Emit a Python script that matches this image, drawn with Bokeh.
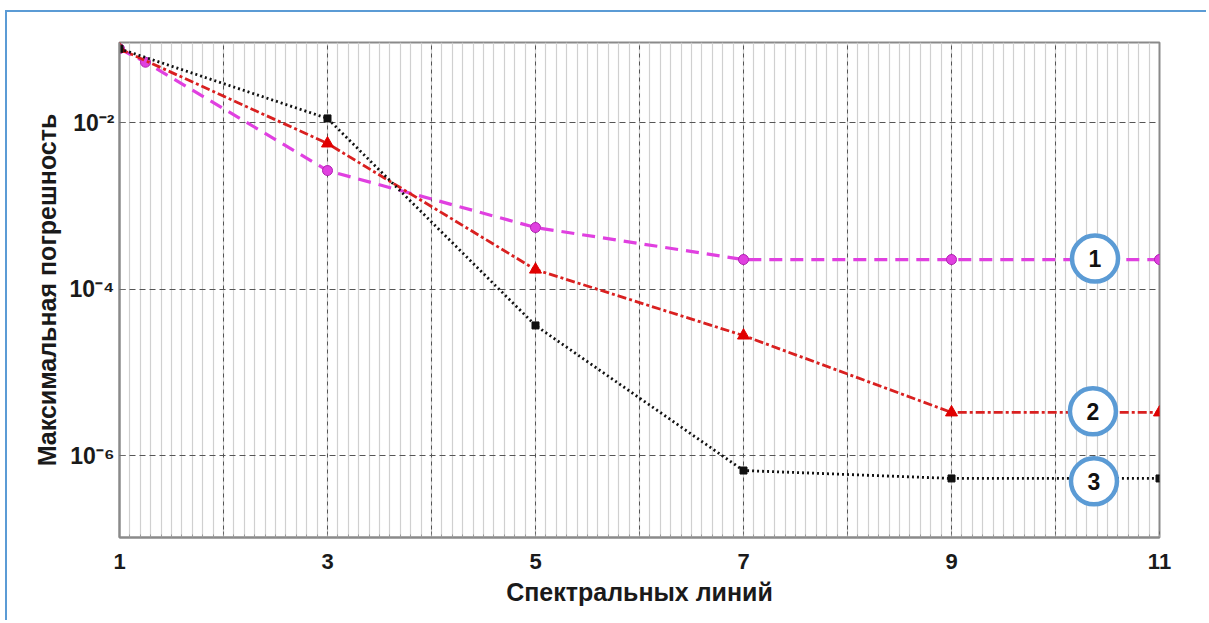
from bokeh.plotting import figure
from bokeh.models import Range1d, FixedTicker, ColumnDataSource
from bokeh.core.properties import value
from bokeh.embed import file_html
from bokeh.resources import INLINE

# --- data -------------------------------------------------------------
x_ticks = [1, 2, 3, 4, 5, 6, 7, 8, 9, 10, 11]
x_tick_labels = {1: "1", 3: "3", 5: "5", 7: "7", 9: "9", 11: "11"}
y_ticks = [1e-6, 1e-4, 1e-2]
y_tick_labels = {1e-6: "10\u207b\u2076", 1e-4: "10\u207b\u2074", 1e-2: "10\u207b\u00b2"}

x_s1 = [1, 1.25, 3, 5, 7, 9, 11]
err_s1 = [0.077, 0.053, 2.65e-3, 5.48e-4, 2.26e-4, 2.26e-4, 2.26e-4]

x_s2 = [1, 3, 5, 7, 9, 11]
err_s2 = [0.077, 5.6e-3, 1.71e-4, 2.76e-5, 3.29e-6, 3.29e-6]

x_s3 = [1, 3, 5, 7, 9, 11]
err_s3 = [0.077, 1.12e-2, 3.65e-5, 6.6e-7, 5.3e-7, 5.3e-7]

curve_ids = ["1", "2", "3"]
curve_label_x = [10.38, 10.36, 10.37]
curve_label_y = [2.32e-4, 3.39e-6, 4.9e-7]

x_title = "Спектральных линий"
y_title = "Максимальная погрешность"

FONT = "Liberation Sans"
FRAME_BLUE = "#5b9bd5"

p = figure(width=1201, height=610, y_axis_type="log",
           x_range=Range1d(1, 11), y_range=Range1d(1.035e-7, 0.0915),
           output_backend="svg", toolbar_location=None,
           min_border_left=112, min_border_right=49,
           min_border_top=30, min_border_bottom=85)
# page frame: blue rule along the left and top edges
p.styles = {"margin-left": "5px", "margin-top": "10px",
            "border-left": f"2.5px solid {FRAME_BLUE}",
            "border-top": f"2.5px solid {FRAME_BLUE}"}
p.background_fill_color = "white"
p.border_fill_color = "white"
p.outline_line_color = "#8a8a8a"
p.outline_line_width = 2

# axes
p.xaxis.ticker = FixedTicker(ticks=x_ticks,
                             minor_ticks=[1 + i * 0.1 for i in range(101)])
p.xaxis.major_label_overrides = {k: x_tick_labels.get(k, "") for k in x_ticks}
p.yaxis.ticker = FixedTicker(ticks=y_ticks, minor_ticks=[])
p.yaxis.major_label_overrides = y_tick_labels

for ax in (p.xaxis[0], p.yaxis[0]):
    ax.axis_line_color = "#8a8a8a"
    ax.axis_line_width = 2
    ax.major_tick_in = 6
    ax.major_tick_out = 0
    ax.minor_tick_in = 3
    ax.minor_tick_out = 0
    ax.major_tick_line_color = "#6a6a6a"
    ax.minor_tick_line_color = "#9a9a9a"
    ax.major_label_text_font = FONT
    ax.major_label_text_font_style = "bold"
    ax.major_label_text_color = "#1a1a1a"
    ax.axis_label_text_font = FONT
    ax.axis_label_text_font_style = "bold"
    ax.axis_label_text_color = "#1a1a1a"
    ax.axis_label_text_font_size = "25px"

p.xaxis.major_label_text_font_size = "22px"
p.xaxis.major_label_standoff = 16
p.xaxis.axis_label = x_title
p.xaxis.axis_label_standoff = 6
p.yaxis.major_label_text_font_size = "23px"
p.yaxis.major_label_standoff = 5
p.yaxis.axis_label = y_title
p.yaxis.axis_label_standoff = 6

# grid
p.xgrid.grid_line_color = "#555555"
p.xgrid.grid_line_dash = "4 4"
p.xgrid.grid_line_width = 1
p.xgrid.minor_grid_line_color = "#d0d0d0"
p.xgrid.minor_grid_line_width = 1.2
p.ygrid.grid_line_color = "#555555"
p.ygrid.grid_line_dash = "6 4"
p.ygrid.grid_line_width = 1

# curves
p.line(x_s1, err_s1, line_color="#e040e0", line_width=3.2, line_dash="13 8")
p.scatter(x_s1, err_s1, marker="circle", size=10, fill_color="#e040e0",
          line_color="#b020b0")

p.line(x_s2, err_s2, line_color="#d92020", line_width=2.8, line_dash="9 3 3 3")
p.scatter(x_s2, err_s2, marker="triangle", size=12, fill_color="#e00000",
          line_color="#e00000")

p.line(x_s3, err_s3, line_color="#111111", line_width=2.8, line_dash="2 3")
p.scatter(x_s3, err_s3, marker="square", size=7, fill_color="#111111",
          line_color="#111111")

# numbered curve markers
lab = ColumnDataSource(dict(x=curve_label_x, y=curve_label_y, t=curve_ids))
p.scatter("x", "y", source=lab, marker="circle", size=46, fill_color="white",
          line_color=FRAME_BLUE, line_width=4.5)
p.text("x", "y", text="t", source=lab, text_align="center",
       text_baseline="middle", text_font=value(FONT), text_font_style="bold",
       text_font_size="23px", text_color="#111111")

open("out.html", "w").write(file_html(p, INLINE))
